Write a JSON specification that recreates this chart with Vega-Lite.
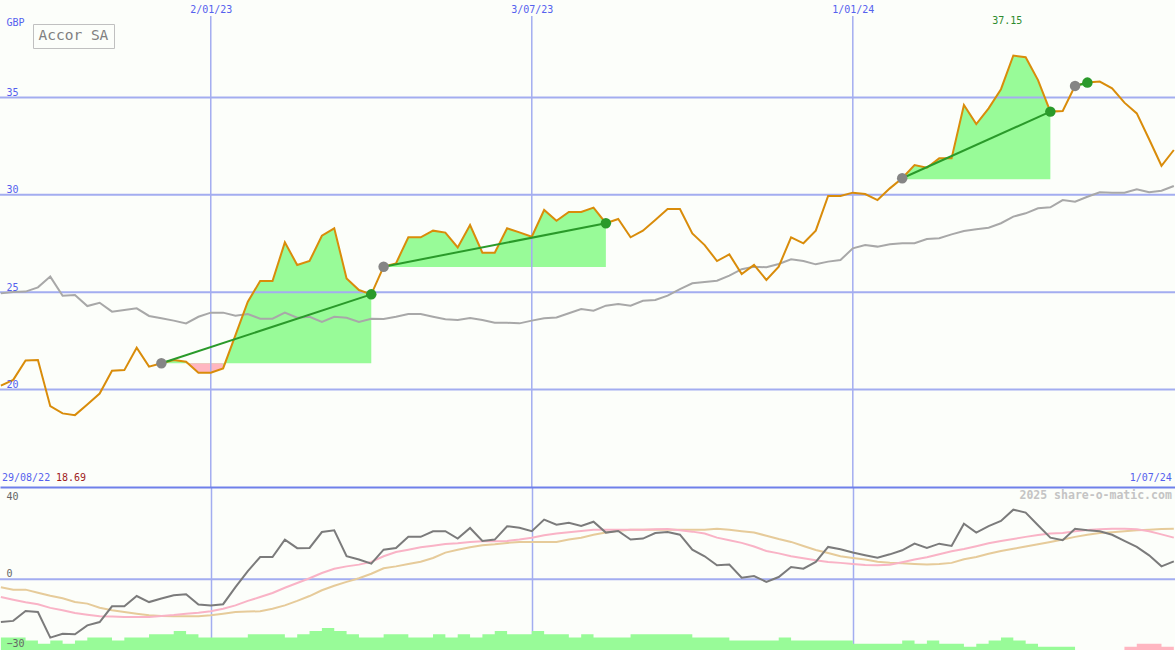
{
"$schema": "https://vega.github.io/schema/vega-lite/v6.json",
"background": "#fcfefa",
"padding": {"left": -4, "top": 0, "right": 0, "bottom": 0},
"spacing": 0,
"bounds": "flush",
"config": {"view": {"stroke": null}, "font": "DejaVu Sans Mono", "axis": {"labelFont": "DejaVu Sans Mono", "titleFont": "DejaVu Sans Mono", "minExtent": 0, "maxExtent": 0, "offset": 0}, "text": {"font": "DejaVu Sans Mono"}, "legend": {"labelFont": "DejaVu Sans Mono"}},
"datasets": {
"weekly": [
{"d":"2022-09-05","p":20.2,"ma":24.94,"o":-22.1,"pk":-9.2,"tn":-4.2,"vg":4,"vp":0},
{"d":"2022-09-12","p":20.5,"ma":25.01,"o":-21.5,"pk":-10.6,"tn":-5.4,"vg":4,"vp":0},
{"d":"2022-09-19","p":21.5,"ma":25.03,"o":-16.4,"pk":-11.9,"tn":-5.4,"vg":3,"vp":0},
{"d":"2022-09-26","p":21.52,"ma":25.25,"o":-16.9,"pk":-12.9,"tn":-7.0,"vg":2,"vp":0},
{"d":"2022-10-03","p":19.15,"ma":25.8,"o":-30.1,"pk":-14.8,"tn":-8.5,"vg":3,"vp":0},
{"d":"2022-10-10","p":18.78,"ma":24.82,"o":-28.1,"pk":-16.0,"tn":-9.8,"vg":2,"vp":0},
{"d":"2022-10-17","p":18.69,"ma":24.86,"o":-28.4,"pk":-17.4,"tn":-11.8,"vg":3,"vp":0},
{"d":"2022-10-24","p":19.24,"ma":24.29,"o":-23.8,"pk":-18.3,"tn":-12.6,"vg":4,"vp":0},
{"d":"2022-10-31","p":19.8,"ma":24.46,"o":-22.1,"pk":-19.1,"tn":-14.7,"vg":4,"vp":0},
{"d":"2022-11-07","p":20.97,"ma":24.0,"o":-14.0,"pk":-19.3,"tn":-16.0,"vg":3,"vp":0},
{"d":"2022-11-14","p":21.0,"ma":24.09,"o":-14.0,"pk":-19.5,"tn":-16.9,"vg":4,"vp":0},
{"d":"2022-11-21","p":22.15,"ma":24.17,"o":-8.7,"pk":-19.5,"tn":-17.8,"vg":4,"vp":0},
{"d":"2022-11-28","p":21.18,"ma":23.78,"o":-11.8,"pk":-19.5,"tn":-18.6,"vg":5,"vp":0},
{"d":"2022-12-05","p":21.35,"ma":23.66,"o":-10.0,"pk":-19.0,"tn":-19.0,"vg":5,"vp":0},
{"d":"2022-12-12","p":21.52,"ma":23.54,"o":-8.3,"pk":-18.5,"tn":-19.1,"vg":6,"vp":0},
{"d":"2022-12-19","p":21.43,"ma":23.4,"o":-7.8,"pk":-17.8,"tn":-19.1,"vg":5,"vp":0},
{"d":"2022-12-26","p":20.87,"ma":23.74,"o":-13.1,"pk":-17.3,"tn":-19.1,"vg":4,"vp":0},
{"d":"2023-01-02","p":20.87,"ma":23.95,"o":-13.6,"pk":-16.5,"tn":-18.6,"vg":4,"vp":0},
{"d":"2023-01-09","p":21.09,"ma":23.95,"o":-12.9,"pk":-15.2,"tn":-17.8,"vg":4,"vp":0},
{"d":"2023-01-16","p":22.8,"ma":23.79,"o":-4.1,"pk":-13.5,"tn":-16.9,"vg":4,"vp":0},
{"d":"2023-01-23","p":24.51,"ma":23.88,"o":4.2,"pk":-11.2,"tn":-16.7,"vg":5,"vp":0},
{"d":"2023-01-30","p":25.57,"ma":23.64,"o":11.4,"pk":-9.2,"tn":-16.5,"vg":5,"vp":0},
{"d":"2023-02-06","p":25.57,"ma":23.64,"o":11.4,"pk":-7.1,"tn":-15.2,"vg":5,"vp":0},
{"d":"2023-02-13","p":27.56,"ma":23.95,"o":20.4,"pk":-4.4,"tn":-13.5,"vg":4,"vp":0},
{"d":"2023-02-20","p":26.4,"ma":23.69,"o":16.0,"pk":-2.0,"tn":-11.2,"vg":5,"vp":0},
{"d":"2023-02-27","p":26.6,"ma":23.74,"o":16.1,"pk":0.5,"tn":-8.7,"vg":6,"vp":0},
{"d":"2023-03-06","p":27.9,"ma":23.47,"o":24.3,"pk":3.2,"tn":-5.7,"vg":7,"vp":0},
{"d":"2023-03-13","p":28.28,"ma":23.74,"o":25.2,"pk":5.4,"tn":-3.4,"vg":6,"vp":0},
{"d":"2023-03-20","p":25.71,"ma":23.69,"o":11.8,"pk":6.6,"tn":-1.4,"vg":5,"vp":0},
{"d":"2023-03-27","p":25.11,"ma":23.47,"o":10.1,"pk":7.5,"tn":0.5,"vg":4,"vp":0},
{"d":"2023-04-03","p":24.89,"ma":23.64,"o":8.0,"pk":8.9,"tn":2.8,"vg":4,"vp":0},
{"d":"2023-04-10","p":26.31,"ma":23.62,"o":15.2,"pk":11.8,"tn":5.6,"vg":5,"vp":0},
{"d":"2023-04-17","p":26.48,"ma":23.74,"o":16.1,"pk":14.0,"tn":6.6,"vg":5,"vp":0},
{"d":"2023-04-24","p":27.82,"ma":23.88,"o":21.8,"pk":15.2,"tn":7.8,"vg":4,"vp":0},
{"d":"2023-05-01","p":27.82,"ma":23.88,"o":21.8,"pk":16.4,"tn":9.0,"vg":4,"vp":0},
{"d":"2023-05-08","p":28.16,"ma":23.74,"o":24.7,"pk":17.2,"tn":10.9,"vg":5,"vp":0},
{"d":"2023-05-15","p":28.06,"ma":23.61,"o":24.7,"pk":18.1,"tn":13.7,"vg":4,"vp":0},
{"d":"2023-05-22","p":27.3,"ma":23.57,"o":20.9,"pk":18.5,"tn":15.2,"vg":5,"vp":0},
{"d":"2023-05-29","p":28.45,"ma":23.68,"o":26.4,"pk":19.2,"tn":16.4,"vg":4,"vp":0},
{"d":"2023-06-05","p":27.03,"ma":23.57,"o":19.7,"pk":19.5,"tn":17.5,"vg":5,"vp":0},
{"d":"2023-06-12","p":27.03,"ma":23.43,"o":20.4,"pk":19.5,"tn":18.0,"vg":6,"vp":0},
{"d":"2023-06-19","p":28.28,"ma":23.43,"o":27.3,"pk":19.7,"tn":18.7,"vg":5,"vp":0},
{"d":"2023-06-26","p":28.07,"ma":23.4,"o":26.5,"pk":20.4,"tn":19.2,"vg":5,"vp":0},
{"d":"2023-07-03","p":27.85,"ma":23.54,"o":24.7,"pk":21.4,"tn":19.2,"vg":6,"vp":0},
{"d":"2023-07-10","p":29.22,"ma":23.66,"o":30.7,"pk":22.6,"tn":19.2,"vg":5,"vp":0},
{"d":"2023-07-17","p":28.67,"ma":23.7,"o":28.1,"pk":23.5,"tn":19.2,"vg":5,"vp":0},
{"d":"2023-07-24","p":29.12,"ma":23.92,"o":29.1,"pk":24.2,"tn":20.4,"vg":4,"vp":0},
{"d":"2023-07-31","p":29.12,"ma":24.14,"o":27.4,"pk":24.8,"tn":21.4,"vg":5,"vp":0},
{"d":"2023-08-07","p":29.34,"ma":24.05,"o":29.6,"pk":25.5,"tn":22.9,"vg":4,"vp":0},
{"d":"2023-08-14","p":28.54,"ma":24.31,"o":24.0,"pk":25.5,"tn":24.0,"vg":4,"vp":0},
{"d":"2023-08-21","p":28.76,"ma":24.39,"o":24.8,"pk":25.5,"tn":25.0,"vg":4,"vp":0},
{"d":"2023-08-28","p":27.82,"ma":24.31,"o":20.4,"pk":25.5,"tn":25.5,"vg":5,"vp":0},
{"d":"2023-09-04","p":28.16,"ma":24.56,"o":20.9,"pk":25.5,"tn":25.5,"vg":5,"vp":0},
{"d":"2023-09-11","p":28.71,"ma":24.6,"o":23.8,"pk":25.7,"tn":25.5,"vg":5,"vp":0},
{"d":"2023-09-18","p":29.27,"ma":24.82,"o":24.3,"pk":25.9,"tn":25.5,"vg":5,"vp":0},
{"d":"2023-09-25","p":29.27,"ma":25.16,"o":22.9,"pk":25.2,"tn":25.5,"vg":5,"vp":0},
{"d":"2023-10-02","p":28.02,"ma":25.46,"o":15.2,"pk":24.5,"tn":25.5,"vg":4,"vp":0},
{"d":"2023-10-09","p":27.42,"ma":25.52,"o":11.8,"pk":23.5,"tn":25.5,"vg":4,"vp":0},
{"d":"2023-10-16","p":26.6,"ma":25.59,"o":7.2,"pk":21.4,"tn":26.0,"vg":4,"vp":0},
{"d":"2023-10-23","p":26.94,"ma":25.85,"o":7.5,"pk":20.1,"tn":25.5,"vg":3,"vp":0},
{"d":"2023-10-30","p":25.93,"ma":26.18,"o":0.8,"pk":18.7,"tn":24.7,"vg":3,"vp":0},
{"d":"2023-11-06","p":26.4,"ma":26.31,"o":1.6,"pk":16.8,"tn":24.0,"vg":3,"vp":0},
{"d":"2023-11-13","p":25.63,"ma":26.28,"o":-1.4,"pk":14.5,"tn":22.4,"vg":3,"vp":0},
{"d":"2023-11-20","p":26.31,"ma":26.45,"o":1.1,"pk":13.3,"tn":20.7,"vg":4,"vp":0},
{"d":"2023-11-27","p":27.82,"ma":26.69,"o":6.3,"pk":11.8,"tn":19.2,"vg":3,"vp":0},
{"d":"2023-12-04","p":27.51,"ma":26.6,"o":5.4,"pk":10.8,"tn":17.1,"vg":3,"vp":0},
{"d":"2023-12-11","p":28.16,"ma":26.43,"o":8.9,"pk":9.7,"tn":15.0,"vg":3,"vp":0},
{"d":"2023-12-18","p":29.94,"ma":26.57,"o":16.6,"pk":8.9,"tn":13.5,"vg":3,"vp":0},
{"d":"2023-12-25","p":29.94,"ma":26.65,"o":15.4,"pk":8.4,"tn":11.8,"vg":3,"vp":0},
{"d":"2024-01-01","p":30.11,"ma":27.25,"o":13.7,"pk":7.8,"tn":10.9,"vg":2,"vp":0},
{"d":"2024-01-08","p":30.04,"ma":27.42,"o":12.3,"pk":7.3,"tn":10.1,"vg":2,"vp":0},
{"d":"2024-01-15","p":29.73,"ma":27.34,"o":11.0,"pk":7.2,"tn":9.0,"vg":2,"vp":0},
{"d":"2024-01-22","p":30.33,"ma":27.46,"o":12.8,"pk":7.4,"tn":8.5,"vg":2,"vp":0},
{"d":"2024-01-29","p":30.85,"ma":27.51,"o":14.9,"pk":8.7,"tn":8.2,"vg":3,"vp":0},
{"d":"2024-02-05","p":31.53,"ma":27.51,"o":18.3,"pk":10.1,"tn":7.8,"vg":2,"vp":0},
{"d":"2024-02-12","p":31.39,"ma":27.73,"o":16.1,"pk":11.3,"tn":7.5,"vg":3,"vp":0},
{"d":"2024-02-19","p":31.87,"ma":27.77,"o":18.3,"pk":12.8,"tn":7.8,"vg":2,"vp":0},
{"d":"2024-02-26","p":31.87,"ma":27.97,"o":17.1,"pk":14.4,"tn":8.4,"vg":2,"vp":0},
{"d":"2024-03-04","p":34.61,"ma":28.14,"o":28.6,"pk":15.6,"tn":10.3,"vg":1,"vp":0},
{"d":"2024-03-11","p":33.63,"ma":28.23,"o":24.0,"pk":17.0,"tn":11.4,"vg":2,"vp":0},
{"d":"2024-03-18","p":34.44,"ma":28.31,"o":27.3,"pk":18.5,"tn":13.1,"vg":3,"vp":0},
{"d":"2024-03-25","p":35.42,"ma":28.54,"o":30.0,"pk":19.7,"tn":14.5,"vg":4,"vp":0},
{"d":"2024-04-01","p":37.15,"ma":28.88,"o":35.8,"pk":20.7,"tn":15.7,"vg":3,"vp":0},
{"d":"2024-04-08","p":37.06,"ma":29.05,"o":34.3,"pk":21.8,"tn":16.8,"vg":2,"vp":0},
{"d":"2024-04-15","p":35.89,"ma":29.31,"o":27.8,"pk":22.8,"tn":18.0,"vg":1,"vp":0},
{"d":"2024-04-22","p":34.27,"ma":29.36,"o":21.4,"pk":23.5,"tn":19.2,"vg":1,"vp":0},
{"d":"2024-04-29","p":34.3,"ma":29.73,"o":20.1,"pk":23.8,"tn":20.4,"vg":1,"vp":0},
{"d":"2024-05-06","p":35.59,"ma":29.65,"o":26.0,"pk":24.7,"tn":21.8,"vg":0,"vp":0},
{"d":"2024-05-13","p":35.76,"ma":29.9,"o":25.2,"pk":25.4,"tn":22.9,"vg":0,"vp":0},
{"d":"2024-05-20","p":35.81,"ma":30.13,"o":24.7,"pk":25.7,"tn":23.8,"vg":0,"vp":0},
{"d":"2024-05-27","p":35.47,"ma":30.11,"o":22.9,"pk":26.0,"tn":24.2,"vg":0,"vp":0},
{"d":"2024-06-03","p":34.73,"ma":30.11,"o":19.7,"pk":26.0,"tn":24.7,"vg":0,"vp":1},
{"d":"2024-06-10","p":34.18,"ma":30.28,"o":16.6,"pk":25.7,"tn":25.2,"vg":0,"vp":2},
{"d":"2024-06-17","p":32.85,"ma":30.13,"o":12.3,"pk":24.7,"tn":25.5,"vg":0,"vp":2},
{"d":"2024-06-24","p":31.49,"ma":30.21,"o":6.6,"pk":23.1,"tn":25.9,"vg":0,"vp":1},
{"d":"2024-07-01","p":32.3,"ma":30.45,"o":9.2,"pk":21.4,"tn":26.0,"vg":0,"vp":1}
],
"trades": [
{"t":1,"d":"2022-12-05","p":21.35,"b":21.35},{"t":1,"d":"2022-12-12","p":21.52,"b":21.35},{"t":1,"d":"2022-12-19","p":21.43,"b":21.35},{"t":1,"d":"2022-12-26","p":20.87,"b":21.35},{"t":1,"d":"2023-01-02","p":20.87,"b":21.35},{"t":1,"d":"2023-01-09","p":21.09,"b":21.35},{"t":1,"d":"2023-01-16","p":22.8,"b":21.35},{"t":1,"d":"2023-01-23","p":24.51,"b":21.35},{"t":1,"d":"2023-01-30","p":25.57,"b":21.35},{"t":1,"d":"2023-02-06","p":25.57,"b":21.35},{"t":1,"d":"2023-02-13","p":27.56,"b":21.35},{"t":1,"d":"2023-02-20","p":26.4,"b":21.35},{"t":1,"d":"2023-02-27","p":26.6,"b":21.35},{"t":1,"d":"2023-03-06","p":27.9,"b":21.35},{"t":1,"d":"2023-03-13","p":28.28,"b":21.35},{"t":1,"d":"2023-03-20","p":25.71,"b":21.35},{"t":1,"d":"2023-03-27","p":25.11,"b":21.35},{"t":1,"d":"2023-04-03","p":24.89,"b":21.35},
{"t":2,"d":"2023-04-10","p":26.31,"b":26.3},{"t":2,"d":"2023-04-17","p":26.48,"b":26.3},{"t":2,"d":"2023-04-24","p":27.82,"b":26.3},{"t":2,"d":"2023-05-01","p":27.82,"b":26.3},{"t":2,"d":"2023-05-08","p":28.16,"b":26.3},{"t":2,"d":"2023-05-15","p":28.06,"b":26.3},{"t":2,"d":"2023-05-22","p":27.3,"b":26.3},{"t":2,"d":"2023-05-29","p":28.45,"b":26.3},{"t":2,"d":"2023-06-05","p":27.03,"b":26.3},{"t":2,"d":"2023-06-12","p":27.03,"b":26.3},{"t":2,"d":"2023-06-19","p":28.28,"b":26.3},{"t":2,"d":"2023-06-26","p":28.07,"b":26.3},{"t":2,"d":"2023-07-03","p":27.85,"b":26.3},{"t":2,"d":"2023-07-10","p":29.22,"b":26.3},{"t":2,"d":"2023-07-17","p":28.67,"b":26.3},{"t":2,"d":"2023-07-24","p":29.12,"b":26.3},{"t":2,"d":"2023-07-31","p":29.12,"b":26.3},{"t":2,"d":"2023-08-07","p":29.34,"b":26.3},{"t":2,"d":"2023-08-14","p":28.54,"b":26.3},
{"t":3,"d":"2024-01-29","p":30.85,"b":30.8},{"t":3,"d":"2024-02-05","p":31.53,"b":30.8},{"t":3,"d":"2024-02-12","p":31.39,"b":30.8},{"t":3,"d":"2024-02-19","p":31.87,"b":30.8},{"t":3,"d":"2024-02-26","p":31.87,"b":30.8},{"t":3,"d":"2024-03-04","p":34.61,"b":30.8},{"t":3,"d":"2024-03-11","p":33.63,"b":30.8},{"t":3,"d":"2024-03-18","p":34.44,"b":30.8},{"t":3,"d":"2024-03-25","p":35.42,"b":30.8},{"t":3,"d":"2024-04-01","p":37.15,"b":30.8},{"t":3,"d":"2024-04-08","p":37.06,"b":30.8},{"t":3,"d":"2024-04-15","p":35.89,"b":30.8},{"t":3,"d":"2024-04-22","p":34.27,"b":30.8},
{"t":4,"d":"2024-05-06","p":35.59,"b":35.59},{"t":4,"d":"2024-05-13","p":35.76,"b":35.59}
],
"losses": [
{"d":"2022-12-19","p":21.43,"b":21.35},{"d":"2022-12-26","p":20.87,"b":21.35},{"d":"2023-01-02","p":20.87,"b":21.35},{"d":"2023-01-09","p":21.09,"b":21.35}
],
"tl": [
{"t":1,"d0":"2022-12-05","p0":21.35,"d1":"2023-04-03","p1":24.89},
{"t":2,"d0":"2023-04-10","p0":26.31,"d1":"2023-08-14","p1":28.54},
{"t":3,"d0":"2024-01-29","p0":30.85,"d1":"2024-04-22","p1":34.27},
{"t":4,"d0":"2024-05-06","p0":35.59,"d1":"2024-05-13","p1":35.76}
],
"vgrid": [{"d":"2023-01-02"},{"d":"2023-07-03"},{"d":"2024-01-01"}],
"hgrid": [{"v":20},{"v":25},{"v":30},{"v":35}],
"maxpt": [{"d":"2024-04-01","p":37.15}],
"minpt": [{"d":"2022-10-17","p":18.69}]
},
"vconcat": [
{
"width": 1175, "height": 487,
"layer": [
{"data": {"name": "trades"}, "mark": {"type": "area", "color": "#98fb98", "opacity": 1},
 "encoding": {"x": {"field": "d", "type": "temporal", "scale": {"type": "utc", "domain": [{"year":2022,"month":9,"date":4,"hours":12,"utc":true},{"year":2024,"month":7,"date":1,"hours":16,"utc":true}]},
   "axis": {"orient": "top", "values": [{"year":2023,"month":1,"date":2,"utc":true},{"year":2023,"month":7,"date":3,"utc":true},{"year":2024,"month":1,"date":1,"utc":true}], "format": "%-d/%m/%y", "grid": false, "domain": false, "ticks": false, "tickSize": 0, "labelPadding": -4, "labelBaseline": "top", "labelColor": "#5561ee", "labelFontSize": 10, "labelFlush": false, "labelOverlap": false, "title": null, "zindex": 1}},
  "y": {"field": "p", "type": "quantitative", "scale": {"domain": [15, 40], "nice": false, "zero": false},
   "axis": {"values": [20, 25, 30, 35], "orient": "left", "grid": false, "domain": false, "ticks": false, "tickSize": 0, "minExtent": 0, "maxExtent": 0, "labelAlign": "left", "labelBaseline": "alphabetic", "labelPadding": -6, "labelOffset": -2, "labelColor": "#5561ee", "labelFontSize": 10, "title": "GBP", "titleAngle": 0, "titleX": 6, "titleY": 25, "titleAlign": "left", "titleBaseline": "alphabetic", "titleColor": "#5561ee", "titleFontSize": 10, "titleFontWeight": "normal", "zindex": 1}},
  "y2": {"field": "b"},
  "detail": {"field": "t"}}},
{"data": {"name": "losses"}, "mark": {"type": "area", "color": "#ffb6c1", "opacity": 1},
 "encoding": {"x": {"field": "d", "type": "temporal"}, "y": {"field": "p", "type": "quantitative"}, "y2": {"field": "b"}}},
{"data": {"name": "vgrid"}, "mark": {"type": "rule", "color": "#a3adf0", "strokeWidth": 1.5},
 "encoding": {"x": {"field": "d", "type": "temporal"}, "y": {"datum": 39.18}, "y2": {"datum": 15}}},
{"data": {"name": "hgrid"}, "mark": {"type": "rule", "color": "#a3adf0", "strokeWidth": 2},
 "encoding": {"y": {"field": "v", "type": "quantitative"}}},
{"data": {"name": "weekly"}, "mark": {"type": "line", "color": "#a8a8a8", "strokeWidth": 2},
 "encoding": {"x": {"field": "d", "type": "temporal"}, "y": {"field": "ma", "type": "quantitative"}}},
{"data": {"name": "weekly"}, "mark": {"type": "line", "strokeWidth": 2},
 "encoding": {"x": {"field": "d", "type": "temporal"}, "y": {"field": "p", "type": "quantitative"},
  "color": {"datum": "Accor SA", "scale": {"range": ["#d98c0a"]},
   "legend": {"title": null, "orient": "none", "legendX": 33, "legendY": 24, "strokeColor": "#c0c0c0", "padding": 5, "symbolSize": 0, "symbolStrokeWidth": 0, "symbolOpacity": 0, "labelOffset": -14, "labelFontSize": 14.5, "labelColor": "#808080", "labelFont": "DejaVu Sans Mono"}}}},
{"data": {"name": "tl"}, "mark": {"type": "rule", "color": "#2a9a2a", "strokeWidth": 2},
 "encoding": {"x": {"field": "d0", "type": "temporal"}, "y": {"field": "p0", "type": "quantitative"}, "x2": {"field": "d1"}, "y2": {"field": "p1"}}},
{"data": {"name": "tl"}, "mark": {"type": "circle", "color": "#858585", "opacity": 1, "size": 110},
 "encoding": {"x": {"field": "d0", "type": "temporal"}, "y": {"field": "p0", "type": "quantitative"}}},
{"data": {"name": "tl"}, "mark": {"type": "circle", "color": "#2a9a2a", "opacity": 1, "size": 110},
 "encoding": {"x": {"field": "d1", "type": "temporal"}, "y": {"field": "p1", "type": "quantitative"}}},
{"data": {"name": "maxpt"}, "mark": {"type": "text", "color": "#2e8b2e", "fontSize": 10, "align": "center", "baseline": "middle", "dx": -6},
 "encoding": {"x": {"field": "d", "type": "temporal"}, "y": {"datum": 38.92}, "text": {"field": "p", "type": "quantitative", "format": ".2f"}}},
{"data": {"values": [{"s": "29/08/22"}]}, "mark": {"type": "text", "color": "#5561ee", "fontSize": 10, "align": "left", "baseline": "middle", "dx": 2},
 "encoding": {"x": {"datum": {"year":2022,"month":9,"date":4,"hours":12,"utc":true}, "type": "temporal"}, "y": {"datum": 15.46}, "text": {"field": "s"}}},
{"data": {"name": "minpt"}, "mark": {"type": "text", "color": "#a01c1c", "fontSize": 10, "align": "left", "baseline": "middle", "dx": 56},
 "encoding": {"x": {"datum": {"year":2022,"month":9,"date":4,"hours":12,"utc":true}, "type": "temporal"}, "y": {"datum": 15.46}, "text": {"field": "p", "type": "quantitative", "format": ".2f"}}},
{"data": {"values": [{"s": "1/07/24"}]}, "mark": {"type": "text", "color": "#5561ee", "fontSize": 10, "align": "right", "baseline": "middle", "dx": -2},
 "encoding": {"x": {"datum": {"year":2024,"month":7,"date":1,"utc":true}, "type": "temporal"}, "y": {"datum": 15.46}, "text": {"field": "s"}}}
]
},
{
"width": 1175, "height": 163,
"resolve": {"scale": {"y": "independent"}, "axis": {"y": "independent"}},
"layer": [
{"data": {"name": "weekly"}, "mark": {"type": "area", "interpolate": "step-after", "color": "#98fb98", "opacity": 1},
 "encoding": {"x": {"field": "d", "type": "temporal", "scale": {"type": "utc", "domain": [{"year":2022,"month":9,"date":4,"hours":12,"utc":true},{"year":2024,"month":7,"date":1,"hours":16,"utc":true}]},
   "axis": {"orient": "top", "values": [{"year":2023,"month":1,"date":2,"utc":true},{"year":2023,"month":7,"date":3,"utc":true},{"year":2024,"month":1,"date":1,"utc":true}], "grid": true, "gridColor": "#a3adf0", "gridWidth": 1.5, "domain": true, "domainColor": "#6f80ea", "domainWidth": 2, "ticks": false, "labels": false, "title": null}},
  "y": {"field": "vg", "type": "quantitative", "scale": {"domain": [0, 51.75], "nice": false}, "axis": null}}},
{"data": {"name": "weekly"}, "mark": {"type": "area", "interpolate": "step-after", "color": "#ffb6c1", "opacity": 1},
 "encoding": {"x": {"field": "d", "type": "temporal"}, "y": {"field": "vp", "type": "quantitative", "scale": {"domain": [0, 51.75], "nice": false}, "axis": null}}},
{"data": {"values": [{}]}, "mark": {"type": "rule", "color": "#a3adf0", "strokeWidth": 2},
 "encoding": {"y": {"datum": 0, "type": "quantitative", "scale": {"domain": [-36.5, 47.5], "nice": false, "zero": false}, "axis": null}}},
{"data": {"name": "weekly"}, "mark": {"type": "line", "color": "#e6cb9a", "strokeWidth": 2},
 "encoding": {"x": {"field": "d", "type": "temporal"}, "y": {"field": "tn", "type": "quantitative", "scale": {"domain": [-36.5, 47.5], "nice": false, "zero": false}, "axis": null}}},
{"data": {"name": "weekly"}, "mark": {"type": "line", "color": "#f9b3c6", "strokeWidth": 2},
 "encoding": {"x": {"field": "d", "type": "temporal"}, "y": {"field": "pk", "type": "quantitative", "scale": {"domain": [-36.5, 47.5], "nice": false, "zero": false}, "axis": null}}},
{"data": {"name": "weekly"}, "mark": {"type": "line", "color": "#7b7b7b", "strokeWidth": 2},
 "encoding": {"x": {"field": "d", "type": "temporal"}, "y": {"field": "o", "type": "quantitative", "scale": {"domain": [-36.5, 47.5], "nice": false, "zero": false},
  "axis": {"values": [-30, 0, 40], "orient": "left", "grid": false, "domain": false, "ticks": false, "tickSize": 0, "minExtent": 0, "maxExtent": 0, "labelAlign": "left", "labelPadding": -6,
   "labelBaseline": {"condition": {"test": "datum.value < 0", "value": "top"}, "value": "alphabetic"},
   "labelOffset": {"condition": {"test": "datum.value < 0", "value": 1}, "value": -2.5},
   "labelColor": "#666666", "labelFontSize": 10, "title": null, "zindex": 1}}}},
{"data": {"values": [{"s": "2025 share-o-matic.com"}]}, "mark": {"type": "text", "color": "#c4c4c4", "fontSize": 11.5, "fontWeight": "bold", "align": "right", "baseline": "middle", "dx": -2},
 "encoding": {"x": {"datum": {"year":2024,"month":7,"date":1,"utc":true}, "type": "temporal"}, "y": {"datum": 42.9, "scale": {"domain": [-36.5, 47.5], "nice": false, "zero": false}, "axis": null}, "text": {"field": "s"}}}
]
}
]
}
